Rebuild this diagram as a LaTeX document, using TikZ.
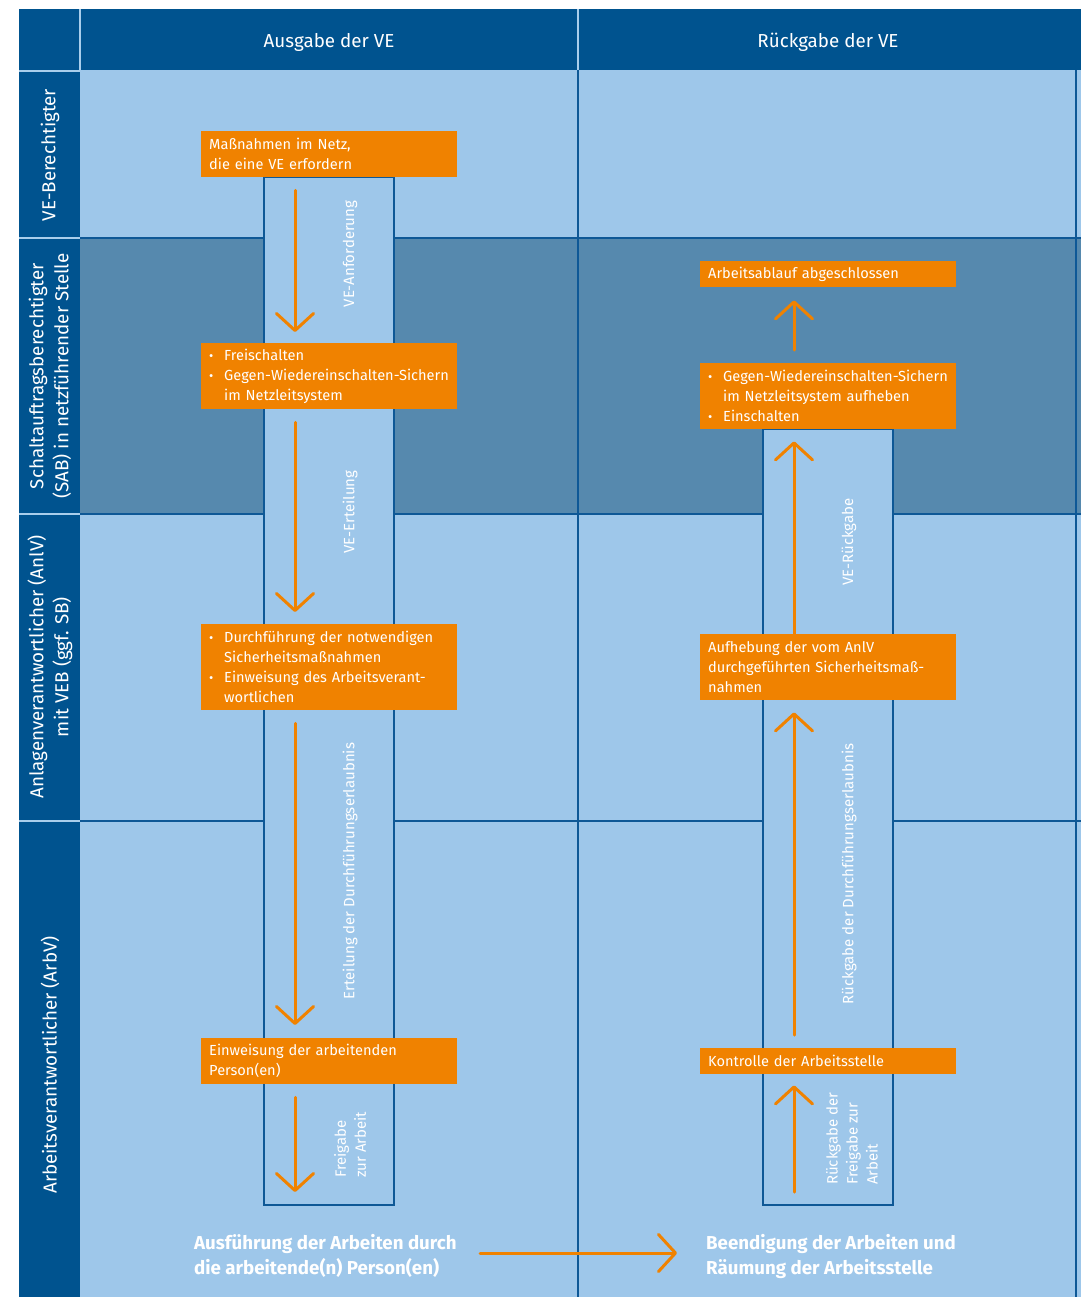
\documentclass[tikz,border=0pt]{standalone}
\usepackage{fontspec}
\setmainfont{Fira Sans}
\usetikzlibrary{arrows.meta}

\definecolor{hdrblue}{HTML}{00538F}
\definecolor{paleblue}{HTML}{9EC7EA}
\definecolor{midblue}{HTML}{5689AE}
\definecolor{lineblue}{HTML}{0E5896}
\definecolor{seplight}{HTML}{A9CEEC}
\definecolor{vorange}{HTML}{F08200}

\newcommand{\bxfont}{\fontsize{14.6}{20}\selectfont}
\newcommand{\lnfont}{\fontsize{15}{20}\selectfont}
\newcommand{\rhfont}{\fontsize{18.8}{25}\selectfont}
\newcommand{\colfont}{\fontsize{18.8}{20}\selectfont}
\newcommand{\btfont}{\fontsize{18.7}{25}\selectfont\bfseries}
\newcommand{\bul}{\makebox[15pt][l]{\fontsize{13}{13}\selectfont\textbullet}}
\newcommand{\ind}{\hspace*{15pt}}

\tikzset{
  obox/.style={fill=vorange, text=white, anchor=north west, minimum width=256pt,
    text width=240pt, inner xsep=8pt, inner ysep=0pt, align=left, font=\bxfont},
  lane/.style={fill=paleblue, draw=lineblue, line width=2.6pt},
  grid/.style={draw=lineblue, line width=2.6pt},
  sep/.style={draw=seplight, line width=2pt},
  flow/.style={draw=vorange, line width=3pt, line cap=round,
    -{Straight Barb[length=17pt, width=37pt, line cap=round, line join=round]}},
  lanelbl/.style={text=white, font=\lnfont, rotate=90, inner sep=0pt},
  rowlbl/.style={text=white, font=\rhfont, rotate=90, align=center, inner sep=0pt},
  collbl/.style={text=white, font=\colfont, inner sep=0pt},
  endlbl/.style={text=white, font=\btfont, align=left, anchor=north west, inner sep=0pt},
}

\begin{document}
\begin{tikzpicture}[x=1pt, y=-1pt]
  % canvas
  \fill[white] (0,0) rectangle (1081,1297);
  \useasboundingbox (0,0) rectangle (1081,1297);

  % header band and role column
  \fill[hdrblue] (19,9) rectangle (1081,70);
  \fill[hdrblue] (19,70) rectangle (80,1297);

  % swimlane rows
  \fill[paleblue] (80,70) rectangle (1081,238);
  \fill[midblue]  (80,238) rectangle (1081,514);
  \fill[paleblue] (80,514) rectangle (1081,1297);

  % light separators in the dark frame
  \draw[sep] (80,9) -- (80,70);
  \draw[sep] (578,9) -- (578,70);
  \foreach \yy in {71,238,514,821} \draw[sep] (19,\yy) -- (80,\yy);

  % grid lines
  \foreach \yy in {238,514,821} \draw[grid] (80,\yy) -- (1081,\yy);
  \draw[grid] (578,70) -- (578,1297);
  \draw[grid] (1076,70) -- (1076,1297);

  % vertical process lanes
  \draw[lane] (264,177) rectangle (394,1205);
  \draw[lane] (763,429) rectangle (893,1205);

  % column headers
  \node[collbl] (hAus) at (329,42) {Ausgabe der VE};
  \node[collbl] (hRue) at (828,42) {Rückgabe der VE};

  % role labels
  \node[rowlbl] (r1) at (50,155) {VE-Berechtigter};
  \node[rowlbl] (r2) at (50,376) {Schaltauftragsberechtigter\\(SAB) in netzführender Stelle};
  \node[rowlbl] (r3) at (50,667) {Anlagenverantwortlicher (AnlV)\\mit VEB (ggf. SB)};
  \node[rowlbl] (r4) at (50,1065) {Arbeitsverantwortlicher (ArbV)};

  % process steps: issuing
  \node[obox, minimum height=46pt] (m1) at (201,131)
    {Maßnahmen im Netz,\\die eine VE erfordern};
  \node[obox, minimum height=66pt] (f2) at (201,343)
    {\bul Freischalten\\\bul\mbox{Gegen-Wiedereinschalten-Sichern}\\\ind im Netzleitsystem};
  \node[obox, minimum height=86pt] (d3) at (201,624)
    {\bul Durchführung der notwendigen\\\ind Sicherheitsmaßnahmen\\\bul Einweisung des Arbeitsverant-\\\ind wortlichen};
  \node[obox, minimum height=46pt] (e4) at (201,1038)
    {Einweisung der arbeitenden\\Person(en)};

  % process steps: returning
  \node[obox, minimum height=26pt] (a5) at (700,261)
    {Arbeitsablauf abgeschlossen};
  \node[obox, minimum height=66pt] (g6) at (700,363)
    {\bul\mbox{Gegen-Wiedereinschalten-Sichern}\\\ind im Netzleitsystem aufheben\\\bul Einschalten};
  \node[obox, minimum height=66pt] (a7) at (700,634)
    {Aufhebung der vom AnlV\\durchgeführten Sicherheitsmaß-\\nahmen};
  \node[obox, minimum height=26pt] (k8) at (700,1048)
    {Kontrolle der Arbeitsstelle};

  % arrow axes and lane ends
  \coordinate (axL) at (295,0);
  \coordinate (axR) at (794,0);
  \coordinate (lbL) at (295,1205);
  \coordinate (lbR) at (794,1205);
  \coordinate (hs) at (480,1253);
  \coordinate (he) at (677,1253);

  % flow arrows: issuing
  \draw[flow, shorten <=13pt, shorten >=11pt] (m1.south -| axL) -- (f2.north -| axL);
  \draw[flow, shorten <=13pt, shorten >=12pt] (f2.south -| axL) -- (d3.north -| axL);
  \draw[flow, shorten <=13pt, shorten >=13pt] (d3.south -| axL) -- (e4.north -| axL);
  \draw[flow, shorten <=13pt, shorten >=13pt] (e4.south -| axL) -- (lbL);

  % flow arrows: returning
  \draw[flow, shorten <=13pt, shorten >=11pt] (lbR) -- (k8.south -| axR);
  \draw[flow, shorten <=13pt, shorten >=12pt] (k8.north -| axR) -- (a7.south -| axR);
  \draw[flow, shorten >=12pt] (a7.north -| axR) -- (g6.south -| axR);
  \draw[flow, shorten <=13pt, shorten >=13pt] (g6.north -| axR) -- (a5.south -| axR);

  % lane labels
  \node[lanelbl] (l1) at (350,254) {VE-Anforderung};
  \node[lanelbl] (l2) at (350,512) {VE-Erteilung};
  \node[lanelbl] (l3) at (350,871) {Erteilung der Durchführungserlaubnis};
  \node[lanelbl, align=left, anchor=west] (l4) at (350,1178) {Freigabe\\zur Arbeit};
  \node[lanelbl] (l5) at (849,542) {VE-Rückgabe};
  \node[lanelbl] (l6) at (849,874) {Rückgabe der Durchführungserlaubnis};
  \node[lanelbl, align=left, anchor=west] (l7) at (852,1185) {Rückgabe der\\Freigabe zur\\Arbeit};

  % closing statements
  \node[endlbl] (t1) at (194,1234) {Ausführung der Arbeiten durch\\die arbeitende(n) Person(en)};
  \node[endlbl] (t2) at (706,1234) {Beendigung der Arbeiten und\\Räumung der Arbeitsstelle};
  \draw[flow] (hs) -- (he);
\end{tikzpicture}
\end{document}
